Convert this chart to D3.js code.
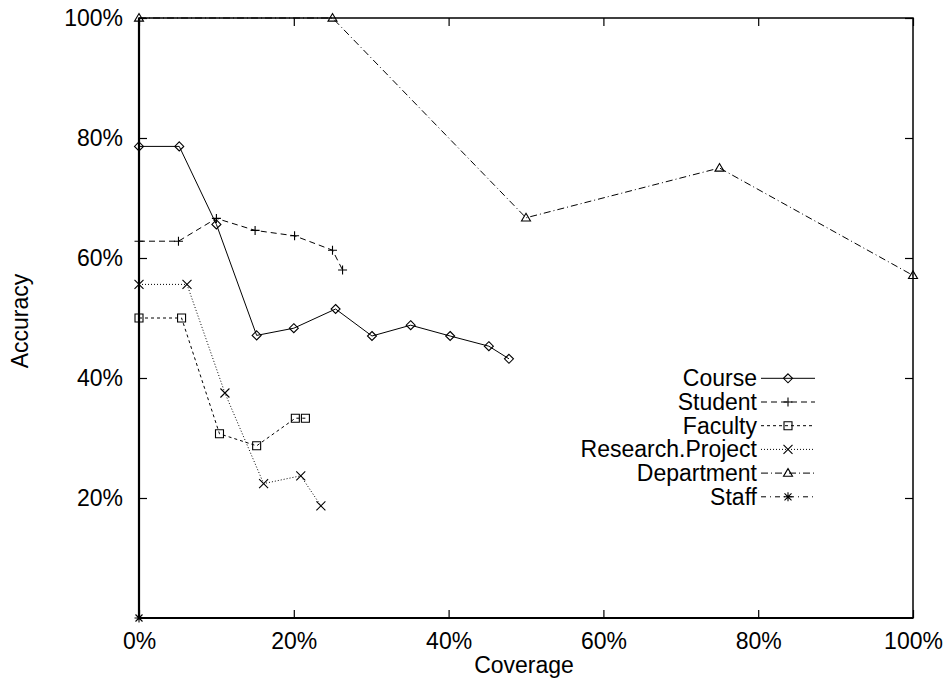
<!DOCTYPE html>
<html>
<head>
<meta charset="utf-8">
<script src="https://cdn.jsdelivr.net/npm/d3@7"></script>
<style>
  html, body { margin: 0; padding: 0; background: #fff; }
  svg { display: block; }
  text { font-family: "Liberation Sans", Arial, Helvetica, sans-serif; fill: #000; }
</style>
</head>
<body>
<svg id="chart" width="947" height="681"></svg>
<script>
// Coverage (x) and accuracy (y), in percent, per class
const seriesNames = ["Course", "Student", "Faculty", "Research.Project", "Department", "Staff"];

const courseX = [0, 5.2, 10.0, 15.2, 20.0, 25.4, 30.1, 35.1, 40.2, 45.2, 47.8];
const courseY = [78.6, 78.6, 65.6, 47.1, 48.3, 51.5, 47.0, 48.8, 47.0, 45.3, 43.2];

const studentX = [0, 5.1, 10.0, 15.0, 20.1, 25.0, 26.3];
const studentY = [62.8, 62.8, 66.6, 64.6, 63.7, 61.3, 58.0];

const facultyX = [0, 5.5, 10.4, 15.2, 20.2, 21.5];
const facultyY = [50.0, 50.0, 30.7, 28.7, 33.3, 33.3];

const researchX = [0, 6.2, 11.1, 16.1, 20.9, 23.5];
const researchY = [55.6, 55.6, 37.5, 22.4, 23.7, 18.7];

const departmentX = [0, 25, 50, 75, 100];
const departmentY = [100, 100, 66.7, 75.0, 57.1];

const staffX = [0];
const staffY = [0];

const xTicks = [0, 20, 40, 60, 80, 100];
const yTicks = [20, 40, 60, 80, 100];

const FONT = 23;

// Drawing styles per series
const styles = [
  { dash: null,          marker: "diamond"  },
  { dash: "6,4",         marker: "plus"     },
  { dash: "3,3",         marker: "square"   },
  { dash: "1,2",         marker: "cross"    },
  { dash: "7,3,1,3",     marker: "triangle" },
  { dash: "5,4,1,4",     marker: "star"     }
];

const seriesData = [
  [courseX, courseY],
  [studentX, studentY],
  [facultyX, facultyY],
  [researchX, researchY],
  [departmentX, departmentY],
  [staffX, staffY]
].map(([xs, ys], i) => ({
  name: seriesNames[i],
  style: styles[i],
  points: xs.map((x, j) => ({ x, y: ys[j] }))
}));

const margin = { left: 139, top: 18, right: 34, bottom: 63 };
const W = 947, H = 681;
const iw = W - margin.left - margin.right;
const ih = H - margin.top - margin.bottom;

const svg = d3.select("#chart");
const g = svg.append("g").attr("transform", `translate(${margin.left},${margin.top})`);

const x = d3.scaleLinear().domain([0, 100]).range([0, iw]);
const y = d3.scaleLinear().domain([0, 100]).range([ih, 0]);

const pct = d => d + "%";

// Axes with inward ticks on all four sides
const axBottom = g.append("g").attr("transform", `translate(0,${ih})`)
  .call(d3.axisBottom(x).tickValues(xTicks).tickFormat(pct).tickSize(-8).tickSizeOuter(0).tickPadding(15));
const axLeft = g.append("g")
  .call(d3.axisLeft(y).tickValues(yTicks).tickFormat(pct).tickSize(-8).tickSizeOuter(0).tickPadding(16));
const axTop = g.append("g")
  .call(d3.axisTop(x).tickValues(xTicks).tickFormat("").tickSize(-8).tickSizeOuter(0));
const axRight = g.append("g").attr("transform", `translate(${iw},0)`)
  .call(d3.axisRight(y).tickValues(yTicks).tickFormat("").tickSize(-8).tickSizeOuter(0));

[axBottom, axLeft, axTop, axRight].forEach(a => {
  a.select(".domain").remove();
  a.selectAll(".tick line").attr("stroke", "#000").attr("stroke-width", 1.2);
  a.selectAll(".tick text").attr("font-size", FONT).attr("font-family", null);
});

// Plot frame
g.append("rect").attr("x", 0).attr("y", 0).attr("width", iw).attr("height", ih)
  .attr("fill", "none").attr("stroke", "#000").attr("stroke-width", 1.5);
g.append("line").attr("x1", 0).attr("x2", 0).attr("y1", 0).attr("y2", ih)
  .attr("stroke", "#000").attr("stroke-width", 2.2);
g.append("line").attr("x1", 0).attr("x2", iw).attr("y1", ih).attr("y2", ih)
  .attr("stroke", "#000").attr("stroke-width", 2);

// Axis titles
svg.append("text").attr("x", 524).attr("y", 673).attr("text-anchor", "middle")
  .attr("font-size", FONT).text("Coverage");
svg.append("text").attr("transform", "translate(28,321) rotate(-90)")
  .attr("text-anchor", "middle").attr("font-size", FONT).text("Accuracy");

// Point marker shapes
function marker(sel, type) {
  const s = 4.5;
  let d;
  switch (type) {
    case "diamond":  d = `M0,${-s}L${s},0L0,${s}L${-s},0Z`; break;
    case "plus":     d = `M${-s},0H${s}M0,${-s}V${s}`; break;
    case "square":   d = `M${-4},${-4}H4V4H-4Z`; break;
    case "cross":    d = `M${-s},${-s}L${s},${s}M${-s},${s}L${s},${-s}`; break;
    case "triangle": d = `M0,${-s}L${s},${s * 0.7}L${-s},${s * 0.7}Z`; break;
    case "star":     d = `M${-s},0H${s}M0,${-s}V${s}M-3.5,-3.5L3.5,3.5M-3.5,3.5L3.5,-3.5`; break;
  }
  sel.append("path").attr("d", d).attr("fill", "none")
    .attr("stroke", "#000").attr("stroke-width", 1.1);
}

const line = d3.line().x(d => x(d.x)).y(d => y(d.y));

seriesData.forEach(s => {
  const sg = g.append("g");
  if (s.points.length > 1) {
    sg.append("path").datum(s.points).attr("d", line)
      .attr("fill", "none").attr("stroke", "#000").attr("stroke-width", 1)
      .attr("stroke-dasharray", s.style.dash);
  }
  s.points.forEach(p => {
    const m = sg.append("g").attr("transform", `translate(${x(p.x)},${y(p.y)})`);
    marker(m, s.style.marker);
  });
});

// Legend
const legend = svg.append("g");
seriesData.forEach((s, i) => {
  const ly = 378.3 + i * 23.7;
  legend.append("text").attr("x", 757).attr("y", ly).attr("dy", "0.35em")
    .attr("text-anchor", "end").attr("font-size", FONT).text(s.name);
  legend.append("line").attr("x1", 761).attr("x2", 815).attr("y1", ly).attr("y2", ly)
    .attr("stroke", "#000").attr("stroke-width", 1).attr("stroke-dasharray", s.style.dash);
  const m = legend.append("g").attr("transform", `translate(788,${ly})`);
  marker(m, s.style.marker);
});
</script>
</body>
</html>
